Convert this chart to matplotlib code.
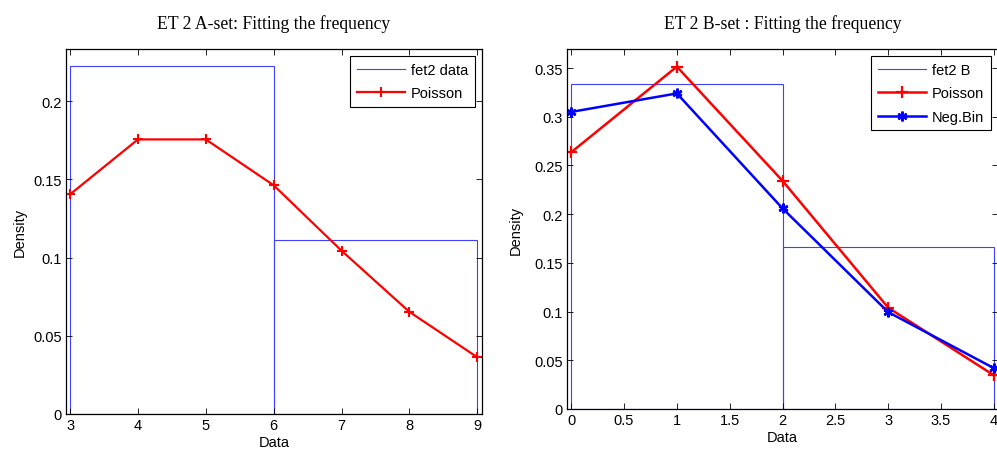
import matplotlib
matplotlib.use("Agg")
import matplotlib.pyplot as plt
from matplotlib.lines import Line2D
import numpy as np

# Left panel data
a_edges = [3, 6]
a_width = [3, 3]
a_hist = [0.2222, 0.1111]
a_x = [3, 4, 5, 6, 7, 8, 9]
a_poisson = [0.1404, 0.1755, 0.1755, 0.1462, 0.1044, 0.0653, 0.0363]

# Right panel data
b_edges = [0, 2]
b_width = [2, 2]
b_hist = [0.3333, 0.1667]
b_x = [0, 1, 2, 3, 4]
b_poisson = [0.2636, 0.3515, 0.2343, 0.1041, 0.0347]
b_negbin = [0.305, 0.324, 0.206, 0.0995, 0.042]

plt.rcParams['font.family'] = ['Liberation Sans', 'DejaVu Sans']
W, H = 997, 460
fig = plt.figure(figsize=(W/100, H/100), dpi=100)
FS = 10.5
HC = (0.25, 0.25, 1.0)

def style(ax):
    ax.tick_params(direction='in', top=True, right=True, length=4, width=0.6, labelsize=FS, pad=3)
    for s in ax.spines.values():
        s.set_linewidth(0.9)

def legend(ax, handles):
    leg = ax.legend(handles=handles, loc='upper right', fontsize=FS, fancybox=False, edgecolor='black',
                    framealpha=1, borderaxespad=0.5, handlelength=3.3, labelspacing=0.65,
                    borderpad=0.45, handletextpad=0.4)
    leg.get_frame().set_linewidth(0.8)

# Left axes
ax1 = fig.add_axes([66/W, 1-415/H, (482-66)/W, (415-50)/H])
ax1.bar(a_edges, a_hist, width=a_width, align='edge', fill=False, edgecolor=HC, linewidth=0.8)
l1, = ax1.plot(a_x, a_poisson, color='red', marker='+', markersize=7, markeredgewidth=1.5, linewidth=1.6, label='Poisson')
ax1.set_xlim(2.94, 9.07)
ax1.set_ylim(0, 0.2333)
ax1.set_xticks([3, 4, 5, 6, 7, 8, 9])
ax1.set_yticks([0, 0.05, 0.1, 0.15, 0.2])
ax1.set_yticklabels(['0', '0.05', '0.1', '0.15', '0.2'])
ax1.set_xlabel('Data', fontsize=FS, labelpad=2)
ax1.set_ylabel('Density', fontsize=FS, labelpad=5)
ax1.set_title('ET 2 A-set: Fitting the frequency', fontfamily=['Liberation Serif'], fontsize=12.7, pad=15)
style(ax1)
legend(ax1, [Line2D([], [], color=HC, linewidth=0.8, label='fet2 data'), l1])

# Right axes
ax2 = fig.add_axes([567/W, 1-410/H, (998-567)/W, (410-50)/H])
ax2.bar(b_edges, b_hist, width=b_width, align='edge', fill=False, edgecolor=HC, linewidth=0.8)
l2, = ax2.plot(b_x, b_poisson, color='red', marker='+', markersize=8, markeredgewidth=1.6, linewidth=1.8, label='Poisson')
l3, = ax2.plot(b_x, b_negbin, color='blue', marker=(6, 2, 0), markersize=7, markeredgewidth=1.8, linewidth=1.8, label='Neg.Bin')
ax2.set_xlim(-0.04, 4.04)
ax2.set_ylim(0, 0.3696)
ax2.set_xticks([0, 0.5, 1, 1.5, 2, 2.5, 3, 3.5, 4])
ax2.set_xticklabels(['0', '0.5', '1', '1.5', '2', '2.5', '3', '3.5', '4'])
ax2.set_yticks([0, 0.05, 0.1, 0.15, 0.2, 0.25, 0.3, 0.35])
ax2.set_yticklabels(['0', '0.05', '0.1', '0.15', '0.2', '0.25', '0.3', '0.35'])
ax2.set_xlabel('Data', fontsize=FS, labelpad=2)
ax2.set_ylabel('Density', fontsize=FS, labelpad=8)
ax2.set_title('ET 2 B-set : Fitting the frequency', fontfamily=['Liberation Serif'], fontsize=12.7, pad=15)
style(ax2)
legend(ax2, [Line2D([], [], color=HC, linewidth=0.8, label='fet2 B'), l2, l3])

fig.savefig('out.png', dpi=100)
